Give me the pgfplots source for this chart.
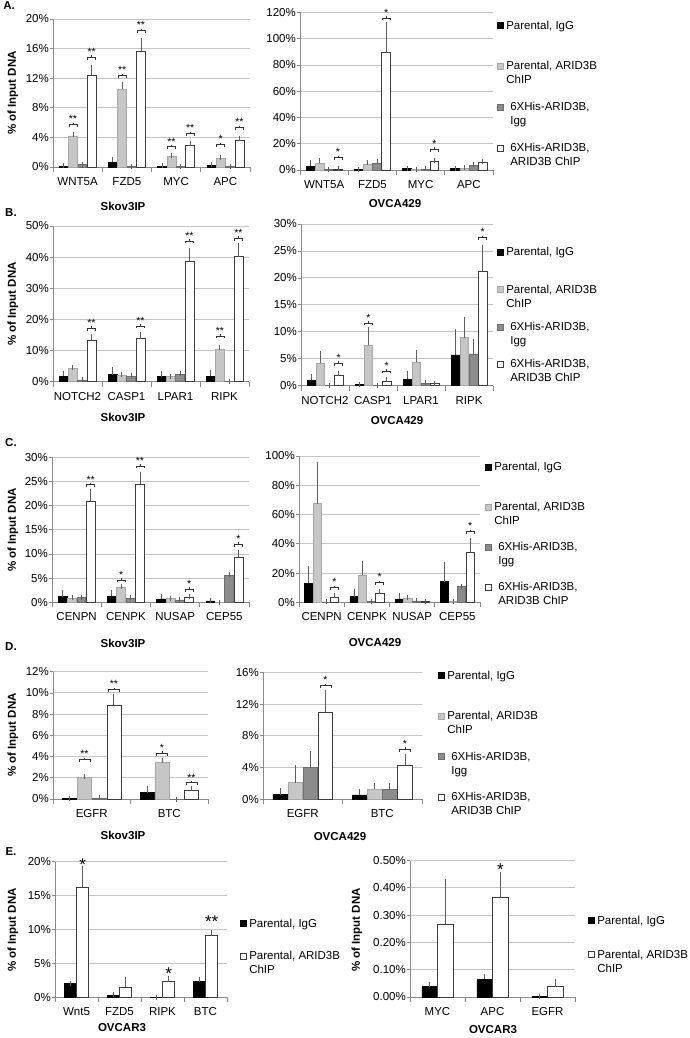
\documentclass[border=0pt]{standalone}
\usepackage{fontspec}
\setmainfont{Liberation Sans}
\usepackage{pgfplots}
\usepackage{pgfplotstable}
\pgfplotsset{compat=1.18}

\definecolor{lgf}{HTML}{C6C6C6}
\definecolor{lgd}{HTML}{A8A8A8}
\definecolor{dgf}{HTML}{8C8C8C}
\definecolor{dgd}{HTML}{6E6E6E}
\definecolor{wd}{HTML}{3C3C3C}
\definecolor{axg}{HTML}{8A8A8A}
\definecolor{grd}{HTML}{C4C4C4}
\definecolor{errc}{HTML}{5E5E5E}

\newcommand\tfont{\fontsize{11.5}{14}\selectfont}
\newcommand\bfont{\fontsize{11.5}{14}\selectfont\bfseries}
\newcommand\sfont{\fontsize{10.5}{10.5}\selectfont}
\newcommand\Sfont{\fontsize{17}{17}\selectfont}
\newcommand\lent[2]{\parbox[t][26pt][t]{110pt}{#1\\\mbox{}#2}}
\def\bw{4pt}
% significance bracket + stars above a bar
\newcommand\sig[3]{%
  \draw[black!80, line width=0.6pt] (axis cs:#1,#2) ++(-\bw,0pt) -- ++(0pt,2.5pt) -- ++(2*\bw,0pt) -- ++(0pt,-2.5pt);
  \draw[black!80, line width=0.6pt] (axis cs:#1,#2) ++(0pt,2.5pt) -- ++(0pt,1.8pt);
  \node[font=\sfont, anchor=base, inner sep=0pt, yshift=4.2pt] at (axis cs:#1,#2) {#3};
}
% big star, centred at value
\newcommand\bstar[3]{%
  \node[font=\Sfont, anchor=base, inner sep=0pt, yshift=-9.8pt] at (axis cs:#1,#2) {#3};
}

\pgfplotsset{
  eb/.style={error bars/y dir=plus, error bars/y explicit,
    error bars/error bar style={draw=errc, line width=0.7pt},
    error bars/error mark options={draw=errc, line width=0.7pt, mark size=2.5pt}},
  lsq/.style={legend image code/.code={\draw[##1, line width=0.6pt] (0pt,0.5pt) rectangle (6pt,6.5pt);}},
  exc/.style={
    scale only axis, anchor=south west, clip=false,
    ybar, bar width=0.18,
    ymin=0,
    axis x line=bottom, axis y line=left,
    axis line style={draw=axg, line width=0.8pt, -},
    ymajorgrids, grid style={draw=grd, line width=0.9pt},
    major x tick style={draw=none},
    minor x tick style={draw=axg, line width=0.8pt},
    y tick style={draw=axg, line width=0.8pt},
    major tick length=3pt, minor tick length=5pt,
    tick align=outside,
    yticklabel={\pgfmathprintnumber{\tick}\%},
    tick label style={font=\tfont},
    xticklabel style={yshift=-4pt},
    yticklabel style={inner sep=1pt},
    /pgf/number format/assume math mode=true,
    legend style={draw=none, fill=none, font=\tfont, inner sep=0pt,
      at={(axis description cs:1,1)}, anchor=north west,
      cells={anchor=base west}, nodes={inner sep=0pt}, column sep=2.5pt},
  },
}

\newcommand\fourbars[1]{%
  \addplot[bar shift=-0.285, fill=black, draw=black, line width=0.6pt, lsq, eb] table[x=x,y=a,y error=ae]{#1};
  \addplot[bar shift=-0.095, fill=lgf, draw=lgd, line width=0.6pt, lsq, eb] table[x=x,y=b,y error=be]{#1};
  \addplot[bar shift=0.095, fill=dgf, draw=dgd, line width=0.6pt, lsq, eb] table[x=x,y=c,y error=ce]{#1};
  \addplot[bar shift=0.285, fill=white, draw=wd, line width=0.6pt, lsq, eb] table[x=x,y=d,y error=de]{#1};
}
\newcommand\fourlegend{%
  \addlegendentry{\lent{Parental, IgG}{}}
  \addlegendentry{\lent{Parental, ARID3B}{ChIP}}
  \addlegendentry{\lent{\hspace*{4pt}6XHis-ARID3B,}{\hspace*{4pt}Igg}}
  \addlegendentry{\lent{\hspace*{4pt}6XHis-ARID3B,}{\hspace*{4pt}ARID3B ChIP}}
}

% a = Parental IgG, b = Parental ARID3B ChIP, c = 6XHis IgG, d = 6XHis ARID3B ChIP (values in %)
\pgfplotstableread{
x a ae b be c ce d de
0 0.12 0.05 4.2 0.2 0.35 0.05 12.4 1.1
1 0.65 0.35 10.5 0.7 0.05 0 15.7 1.4
2 0.1 0.05 1.5 0.1 0.05 0 3.0 0.2
3 0.25 0.12 1.2 0.06 0.05 0 3.6 0.3
}\tAl
\pgfplotstableread{
x a ae b be c ce d de
0 3.0 2.5 5.0 2.2 0.3 0.1 0.8 0.2
1 0.3 0.2 4.5 1.5 5.0 1.5 89.5 21
2 1.0 0.5 0.5 0.2 0.8 0.3 6.5 0.8
3 1.0 0.5 1.3 0.3 3.3 1.0 5.9 0.9
}\tAr
\pgfplotstableread{
x a ae b be c ce d de
0 1.7 1.0 4.3 0.2 0.6 0.05 13.3 1.3
1 2.3 1.5 2.2 0.2 1.8 0.1 13.8 1.2
2 1.6 1.0 1.6 0.1 2.4 0.1 38.6 3.5
3 1.8 1.2 10.5 0.6 0.1 0 40.2 3.5
}\tBl
\pgfplotstableread{
x a ae b be c ce d de
0 1.0 0.8 4.2 1.7 0.1 0 1.9 0.4
1 0.2 0.05 7.5 3.0 0.1 0 0.9 0.2
2 1.2 1.1 4.4 1.8 0.5 0.1 0.4 0.05
3 5.7 4.4 8.9 3.4 5.9 2.3 21.2 4.5
}\tBr
\pgfplotstableread{
x a ae b be c ce d de
0 1.2 0.9 0.9 0.05 1.0 0.05 21.0 1.9
1 1.3 0.8 3.2 0.15 0.9 0.05 24.4 2.1
2 0.7 0.5 0.8 0.05 0.5 0.05 1.0 0.1
3 0.3 0.1 0.0 0 5.6 0.1 9.4 0.9
}\tCl
\pgfplotstableread{
x a ae b be c ce d de
0 13 10 67.5 27 0.3 0 3.5 1.0
1 3.9 3.8 18.7 7.5 0.5 0 6.1 1.2
2 2.3 2.2 2.7 0.3 1.0 0.1 0.5 0.1
3 14.1 12 0.5 0.1 10.7 0.3 34.2 7.9
}\tCr
\pgfplotstableread{
x a ae b be c ce d de
0 0.05 0 2.0 0.1 0.1 0 8.85 0.8
1 0.6 0.4 3.45 0.2 0.0 0 0.85 0.1
}\tDl
\pgfplotstableread{
x a ae b be c ce d de
0 0.57 0.6 2.1 1.9 4.0 1.8 11.0 2.5
1 0.55 0.42 1.3 0.4 1.2 0.5 4.3 1.1
}\tDr
\pgfplotstableread{
x a ae d de
0 2.0 0.05 16.2 2.8
1 0.3 0.1 1.5 1.1
2 0.0 0 2.3 0.5
3 2.3 0.4 9.1 0.5
}\tEl
\pgfplotstableread{
x a ae d de
0 0.039 0.006 0.267 0.157
1 0.065 0.009 0.365 0.083
2 0.002 0.001 0.038 0.020
}\tEr

\begin{document}
\begin{tikzpicture}
\path[use as bounding box] (0,0) rectangle (690pt,-1038pt);

% ---------------- A ----------------
\node[font=\bfont] at (9pt,-6pt) {A.};
\node[font=\bfont, rotate=90] at (13pt,-93pt) {\% of Input DNA};
\node[font=\bfont] at (123pt,-206pt) {Skov3IP};
\node[font=\bfont] at (395pt,-204pt) {OVCA429};
\def\bw{4pt}
\begin{axis}[exc, at={(53pt,-167pt)}, width=197pt, height=148pt,
  xmin=-0.5, xmax=3.5, xtick={0,1,2,3}, minor xtick={-0.5,0.5,1.5,2.5,3.5},
  xticklabels={WNT5A,FZD5,MYC,APC}, ymax=20, ytick={0,4,8,12,16,20}]
\fourbars{\tAl}
\sig{-0.095}{5.4}{**}
\sig{0.285}{14.5}{**}
\sig{0.905}{12.0}{**}
\sig{1.285}{18.1}{**}
\sig{1.905}{2.4}{**}
\sig{2.285}{4.2}{**}
\sig{2.905}{2.7}{*}
\sig{3.285}{5.0}{**}
\end{axis}
\begin{axis}[exc, at={(300pt,-170pt)}, width=193pt, height=157.5pt,
  xmin=-0.5, xmax=3.5, xtick={0,1,2,3}, minor xtick={-0.5,0.5,1.5,2.5,3.5},
  xticklabels={WNT5A,FZD5,MYC,APC}, ymax=120, ytick={0,20,...,120},
  legend style={xshift=4pt, yshift=-8.2pt, row sep=30.9pt}]
\fourbars{\tAr}
\fourlegend
\sig{0.285}{7.6}{*}
\sig{1.285}{114}{*}
\sig{2.285}{14}{*}
\end{axis}

% ---------------- B ----------------
\node[font=\bfont] at (11pt,-213pt) {B.};
\node[font=\bfont, rotate=90] at (13pt,-304pt) {\% of Input DNA};
\node[font=\bfont] at (123pt,-417pt) {Skov3IP};
\node[font=\bfont] at (397pt,-421pt) {OVCA429};
\begin{axis}[exc, at={(53pt,-381.7pt)}, width=196pt, height=155.7pt,
  xmin=-0.5, xmax=3.5, xtick={0,1,2,3}, minor xtick={-0.5,0.5,1.5,2.5,3.5},
  xticklabels={NOTCH2,CASP1,LPAR1,RIPK}, ymax=50, ytick={0,10,...,50}]
\fourbars{\tBl}
\sig{0.285}{16.4}{**}
\sig{1.285}{17.1}{**}
\sig{2.285}{44.4}{**}
\sig{2.905}{13.9}{**}
\sig{3.285}{45.3}{**}
\end{axis}
\begin{axis}[exc, at={(301pt,-385.7pt)}, width=192pt, height=161.7pt,
  xmin=-0.5, xmax=3.5, xtick={0,1,2,3}, minor xtick={-0.5,0.5,1.5,2.5,3.5},
  xticklabels={NOTCH2,CASP1,LPAR1,RIPK}, ymax=30, ytick={0,5,...,30},
  legend style={xshift=4pt, yshift=-23.4pt, row sep=27.4pt}]
\fourbars{\tBr}
\fourlegend
\sig{0.285}{3.7}{*}
\sig{0.905}{11.2}{*}
\sig{1.285}{2.3}{*}
\sig{3.285}{27}{*}
\end{axis}

% ---------------- C ----------------
\node[font=\bfont] at (11pt,-443pt) {C.};
\node[font=\bfont, rotate=90] at (13pt,-530pt) {\% of Input DNA};
\node[font=\bfont] at (123pt,-643pt) {Skov3IP};
\node[font=\bfont] at (375pt,-643pt) {OVCA429};
\begin{axis}[exc, at={(52pt,-602.3pt)}, width=197pt, height=145pt,
  xmin=-0.5, xmax=3.5, xtick={0,1,2,3}, minor xtick={-0.5,0.5,1.5,2.5,3.5},
  xticklabels={CENPN,CENPK,NUSAP,CEP55}, ymax=30, ytick={0,5,...,30}]
\fourbars{\tCl}
\sig{0.285}{23.8}{**}
\sig{0.905}{4.1}{*}
\sig{1.285}{27.7}{**}
\sig{2.285}{2.2}{*}
\sig{3.285}{11.5}{*}
\end{axis}
\begin{axis}[exc, at={(299pt,-602.3pt)}, width=181pt, height=146.3pt,
  xmin=-0.5, xmax=3.5, xtick={0,1,2,3}, minor xtick={-0.5,0.5,1.5,2.5,3.5},
  xticklabels={CENPN,CENPK,NUSAP,CEP55}, ymax=100, ytick={0,20,...,100},
  legend style={xshift=5pt, yshift=-6.4pt, row sep=30pt}]
\fourbars{\tCr}
\fourlegend
\sig{0.285}{8.4}{*}
\sig{1.285}{11.8}{*}
\sig{3.285}{46.7}{*}
\end{axis}

% ---------------- D ----------------
\node[font=\bfont] at (11pt,-647pt) {D.};
\node[font=\bfont, rotate=90] at (13pt,-735pt) {\% of Input DNA};
\node[font=\bfont] at (123pt,-835pt) {Skov3IP};
\node[font=\bfont] at (340pt,-837pt) {OVCA429};
\def\bw{5.5pt}
\begin{axis}[exc, at={(53pt,-799pt)}, width=155pt, height=127.3pt,
  xmin=-0.5, xmax=1.5, xtick={0,1}, minor xtick={-0.5,0.5,1.5},
  xticklabels={EGFR,BTC}, ymax=12, ytick={0,2,...,12}]
\fourbars{\tDl}
\sig{-0.095}{3.5}{**}
\sig{0.285}{10.1}{**}
\sig{0.905}{4.1}{*}
\sig{1.285}{1.3}{**}
\end{axis}
\begin{axis}[exc, at={(263pt,-799.3pt)}, width=159pt, height=127pt,
  xmin=-0.5, xmax=1.5, xtick={0,1}, minor xtick={-0.5,0.5,1.5},
  xticklabels={EGFR,BTC}, ymax=16, ytick={0,4,...,16},
  legend style={xshift=16pt, yshift=1.6pt, row sep=30.6pt}]
\fourbars{\tDr}
\fourlegend
\sig{0.285}{14.0}{*}
\sig{1.285}{6.0}{*}
\end{axis}

% ---------------- E ----------------
\node[font=\bfont] at (11pt,-852pt) {E.};
\node[font=\bfont, rotate=90] at (13pt,-930pt) {\% of Input DNA};
\node[font=\bfont, rotate=90] at (357pt,-930pt) {\% of Input DNA};
\node[font=\bfont] at (122pt,-1028pt) {OVCAR3};
\node[font=\bfont] at (493pt,-1030pt) {OVCAR3};
\begin{axis}[exc, at={(55pt,-997.3pt)}, width=172pt, height=135.6pt, bar width=0.285,
  xmin=-0.5, xmax=3.5, xtick={0,1,2,3}, minor xtick={-0.5,0.5,1.5,2.5,3.5},
  xticklabels={Wnt5,FZD5,RIPK,BTC}, ymax=20, ytick={0,5,...,20},
  legend style={xshift=13pt, yshift=-57pt, row sep=22.3pt}]
\addplot[bar shift=-0.1425, fill=black, draw=black, line width=0.6pt, lsq, eb] table[x=x,y=a,y error=ae]{\tEl};
\addplot[bar shift=0.1425, fill=white, draw=wd, line width=0.6pt, lsq, eb] table[x=x,y=d,y error=de]{\tEl};
\addlegendentry{\lent{Parental, IgG}{}}
\addlegendentry{\lent{Parental, ARID3B}{ChIP}}
\bstar{0.1425}{20.2}{*}
\bstar{2.1425}{4.0}{*}
\bstar{3.1425}{11.7}{**}
\end{axis}
\begin{axis}[exc, at={(410pt,-997pt)}, width=165pt, height=136.5pt, bar width=0.285,
  xmin=-0.5, xmax=2.5, xtick={0,1,2}, minor xtick={-0.5,0.5,1.5,2.5},
  xticklabels={MYC,APC,EGFR}, ymax=0.5, ytick={0,0.1,0.2,0.3,0.4,0.5},
  yticklabel={\pgfmathprintnumber[fixed, fixed zerofill, precision=2]{\tick}\%},
  legend style={xshift=13pt, yshift=-55pt, row sep=24.3pt}]
\addplot[bar shift=-0.1425, fill=black, draw=black, line width=0.6pt, lsq, eb] table[x=x,y=a,y error=ae]{\tEr};
\addplot[bar shift=0.1425, fill=white, draw=wd, line width=0.6pt, lsq, eb] table[x=x,y=d,y error=de]{\tEr};
\addlegendentry{\lent{Parental, IgG}{}}
\addlegendentry{\lent{Parental, ARID3B}{ChIP}}
\bstar{1.1425}{0.48}{*}
\end{axis}
\end{tikzpicture}
\end{document}
